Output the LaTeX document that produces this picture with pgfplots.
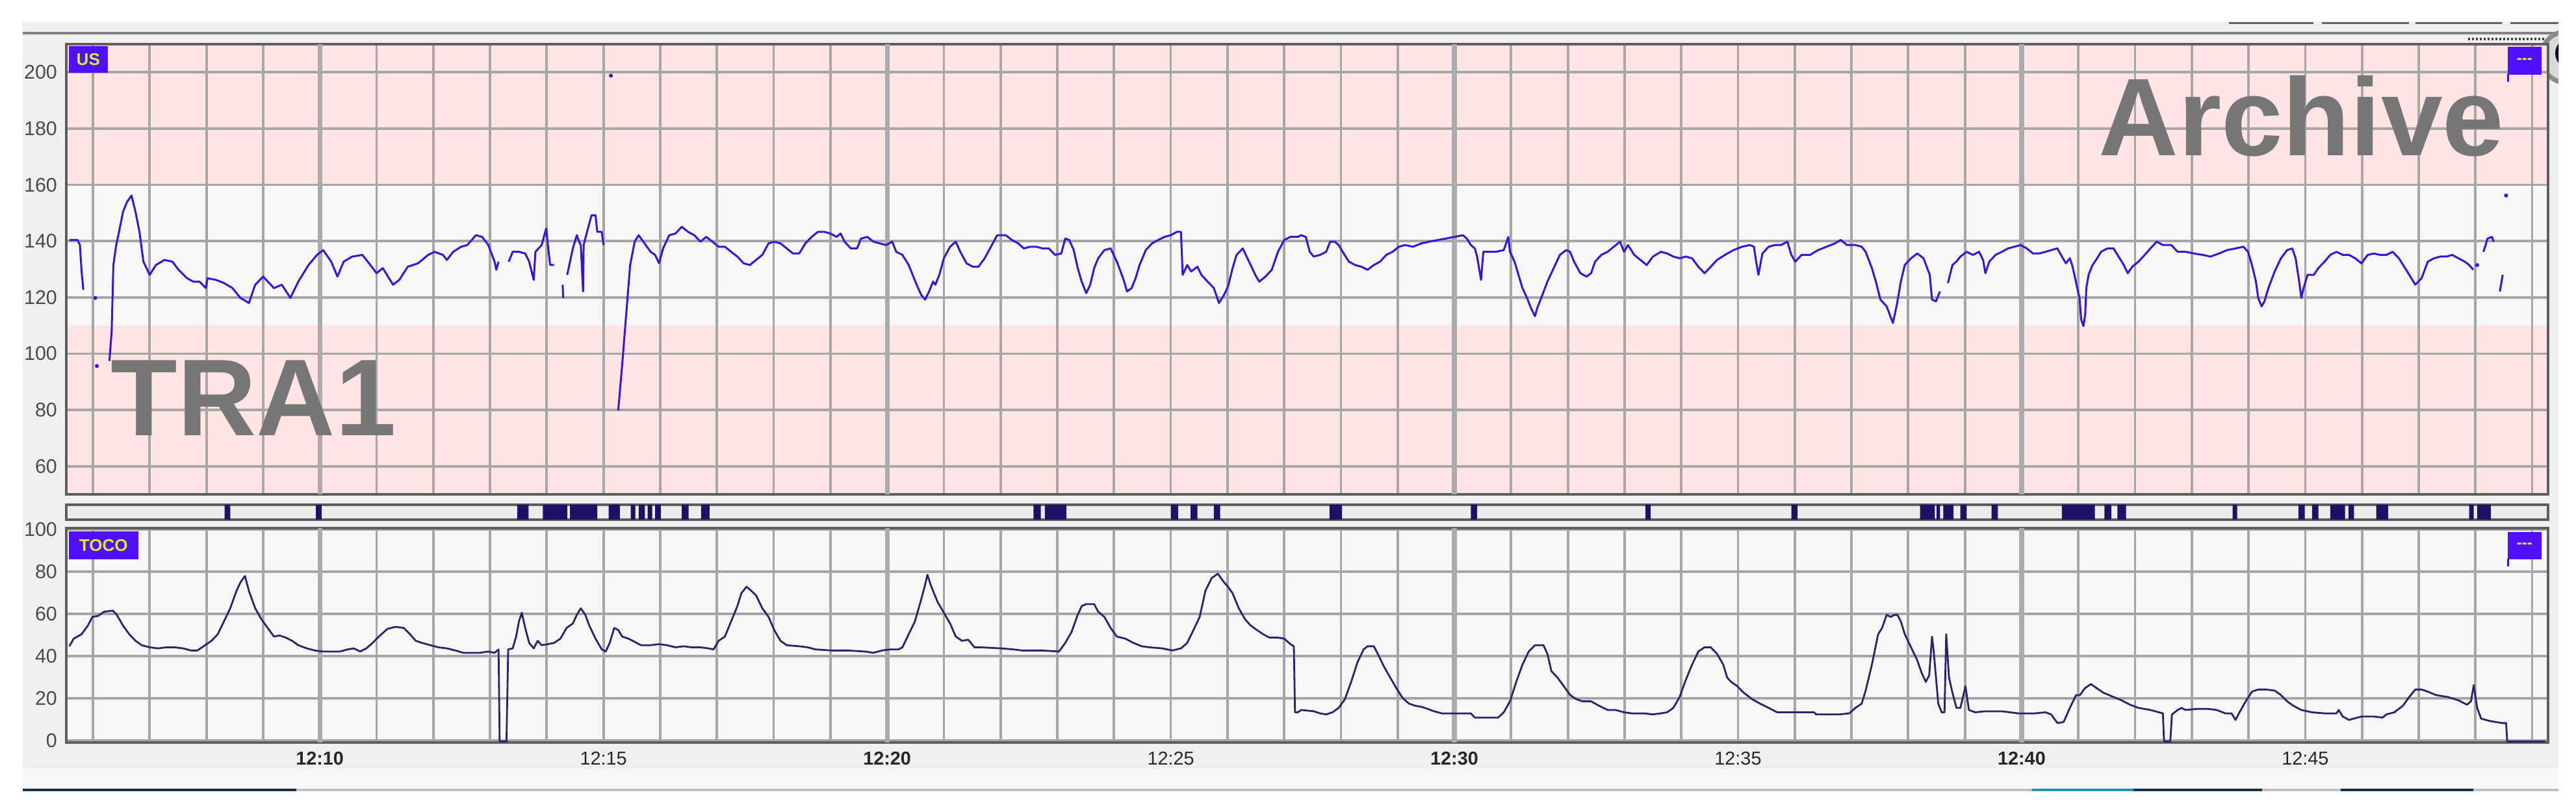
\documentclass[border=0pt]{standalone}
\usepackage{fontspec}
\setmainfont{Liberation Sans}
\usepackage{pgfplots}
\usepackage{pgfplotstable}
\pgfplotsset{compat=1.18}
\definecolor{bandpink}{HTML}{FFE4E4}
\definecolor{bandwhite}{HTML}{F7F7F7}
\definecolor{gridc}{HTML}{A6A6A6}
\definecolor{gridthick}{HTML}{ABABAB}
\definecolor{framec}{HTML}{5E5E5E}
\definecolor{panelc}{HTML}{F0F0F0}
\definecolor{stripc}{HTML}{ECECEC}
\definecolor{fhrc}{HTML}{3A14DC}
\definecolor{tococ}{HTML}{2B2270}
\definecolor{evc}{HTML}{1B1466}
\definecolor{tickc}{HTML}{4A4A4A}
\definecolor{boxc}{HTML}{5010FF}
\definecolor{boxtext}{HTML}{D8F020}
\definecolor{wmc}{HTML}{767676}

\pgfplotstableread{
t v
5.585 140.4
5.73 140.4
5.77 138.6
5.80 129.2
5.83 122.7
5.95 nan
6.29 97.4
6.33 108.0
6.36 131.5
6.41 138.6
6.46 143.3
6.53 150.4
6.60 153.9
6.68 156.2
6.75 150.4
6.82 143.3
6.89 132.7
7.00 128.0
7.11 131.5
7.26 133.3
7.40 132.7
7.51 129.8
7.66 126.8
7.77 125.6
7.88 125.6
7.99 123.3
8.02 126.8
8.17 126.2
8.31 125.1
8.46 123.3
8.60 119.8
8.75 118.0
8.86 124.5
9.00 127.4
9.19 123.3
9.33 124.5
9.48 119.8
9.62 125.6
9.80 131.5
9.95 135.1
10.06 136.8
10.20 132.7
10.31 127.4
10.42 132.7
10.57 134.5
10.75 135.1
10.89 131.5
11.00 128.6
11.11 130.4
11.29 124.5
11.40 126.2
11.55 130.9
11.73 132.1
11.91 135.1
12.02 136.2
12.17 135.1
12.24 133.3
12.35 136.2
12.49 138.0
12.60 138.6
12.75 142.1
12.86 141.5
12.97 138.6
13.08 132.7
13.11 129.8
13.15 132.7
13.24 nan
13.33 132.7
13.40 136.2
13.51 136.2
13.62 135.6
13.69 132.7
13.77 126.2
13.80 136.2
13.91 138.6
13.99 144.5
14.02 138.6
14.06 131.5
14.13 131.5
14.20 nan
14.28 124.5
14.29 119.8
14.32 nan
14.36 128.0
14.46 137.4
14.53 142.1
14.57 139.8
14.60 138.6
14.64 122.1
14.65 138.6
14.71 143.3
14.79 149.2
14.86 149.2
14.89 143.3
14.97 143.3
15.00 138.6
15.10 nan
15.26 79.8
15.33 96.2
15.40 113.9
15.47 131.5
15.55 139.8
15.62 142.1
15.83 136.2
15.91 135.1
15.98 132.1
16.05 137.4
16.16 142.1
16.27 142.7
16.38 145.1
16.49 143.3
16.60 142.1
16.71 139.8
16.81 141.5
16.92 139.8
17.03 138.0
17.14 138.0
17.25 136.2
17.36 134.5
17.47 132.1
17.58 131.5
17.69 133.3
17.80 135.1
17.91 139.2
18.01 139.8
18.12 139.2
18.23 137.4
18.34 135.6
18.45 135.6
18.56 139.2
18.67 141.5
18.78 143.3
18.89 143.3
19.00 142.7
19.11 141.5
19.18 142.7
19.25 139.8
19.36 137.4
19.47 137.4
19.54 140.9
19.65 141.5
19.76 139.8
19.87 139.2
19.98 138.6
20.09 139.8
20.16 136.2
20.27 135.1
20.38 131.5
20.45 128.0
20.52 124.5
20.60 120.9
20.67 119.2
20.74 122.1
20.81 125.6
20.85 124.5
20.92 128.0
21.00 133.9
21.11 138.0
21.21 139.8
21.29 136.2
21.40 132.1
21.51 130.9
21.61 130.9
21.72 133.9
21.83 138.0
21.94 142.1
22.09 142.1
22.20 140.4
22.31 139.2
22.41 137.4
22.52 138.0
22.63 138.0
22.74 137.4
22.85 137.4
22.96 135.1
23.07 135.6
23.14 140.9
23.21 140.4
23.29 136.8
23.36 130.4
23.43 125.6
23.51 121.5
23.58 124.5
23.65 130.4
23.72 133.9
23.83 136.8
23.94 137.4
24.05 132.7
24.16 126.8
24.23 122.1
24.31 123.3
24.38 126.8
24.45 131.5
24.56 136.8
24.67 139.2
24.78 140.4
24.89 141.5
25.00 142.1
25.11 143.3
25.18 143.3
25.21 128.0
25.29 131.5
25.36 129.2
25.47 130.9
25.54 128.0
25.65 125.6
25.76 123.3
25.85 118.0
25.94 120.9
26.01 123.9
26.09 130.4
26.16 135.1
26.27 137.4
26.38 132.7
26.49 128.0
26.56 125.6
26.67 127.4
26.78 129.8
26.89 136.2
27.00 140.4
27.11 141.5
27.24 141.5
27.30 142.1
27.38 141.5
27.45 136.2
27.52 134.5
27.63 135.1
27.74 136.2
27.81 139.8
27.89 139.8
27.96 138.6
28.03 136.2
28.14 132.7
28.25 131.5
28.36 130.9
28.47 129.8
28.58 131.5
28.69 132.7
28.80 135.1
28.91 136.2
29.02 138.0
29.13 138.6
29.27 138.0
29.42 139.2
29.56 139.8
29.71 140.4
29.85 140.9
30.00 141.5
30.15 142.1
30.22 140.9
30.29 138.6
30.36 137.4
30.40 134.5
30.47 126.2
30.51 136.2
30.62 136.2
30.73 136.2
30.87 136.8
30.95 141.5
30.98 136.2
31.06 132.7
31.13 128.0
31.20 123.3
31.28 119.8
31.35 116.2
31.42 113.3
31.46 116.2
31.53 119.8
31.64 125.6
31.75 130.4
31.86 135.1
31.97 136.8
32.04 136.2
32.11 132.7
32.22 128.6
32.33 127.4
32.41 128.6
32.48 132.7
32.59 135.1
32.70 136.2
32.81 138.0
32.92 139.8
32.99 136.2
33.06 138.6
33.17 135.1
33.28 133.3
33.39 131.5
33.50 134.5
33.64 136.2
33.75 135.6
33.86 134.5
33.97 133.9
34.08 134.5
34.19 133.9
34.30 130.9
34.41 128.6
34.52 130.9
34.63 133.3
34.77 135.1
34.92 136.8
35.07 138.0
35.21 138.6
35.28 138.0
35.32 132.7
35.36 128.0
35.43 135.6
35.54 138.0
35.65 138.6
35.76 138.6
35.87 139.8
35.94 135.1
36.01 132.7
36.12 135.1
36.27 135.1
36.41 136.8
36.56 138.0
36.71 139.2
36.81 140.4
36.92 138.6
37.07 138.6
37.18 138.0
37.25 136.2
37.36 130.4
37.43 125.6
37.51 119.2
37.62 116.8
37.73 110.9
37.80 117.4
37.87 125.6
37.94 131.5
38.05 133.9
38.16 135.6
38.27 133.9
38.38 128.0
38.42 119.2
38.49 118.6
38.56 122.1
38.63 nan
38.70 125.1
38.78 131.5
38.85 132.7
38.92 134.5
39.03 136.2
39.14 135.1
39.25 136.2
39.32 133.3
39.36 128.6
39.43 132.7
39.54 135.1
39.65 136.2
39.76 137.4
39.87 138.0
39.98 138.6
40.09 137.4
40.20 135.6
40.31 135.6
40.42 136.2
40.52 136.8
40.63 137.4
40.71 134.5
40.78 132.1
40.85 133.9
40.89 131.5
40.93 128.0
40.98 123.3
41.02 119.8
41.05 112.1
41.09 109.8
41.12 113.9
41.14 123.3
41.18 128.0
41.25 131.5
41.33 133.9
41.40 136.2
41.51 137.4
41.62 137.4
41.69 135.1
41.80 131.5
41.87 128.6
41.95 130.9
42.06 132.7
42.17 135.1
42.27 137.4
42.38 139.8
42.49 138.6
42.64 138.6
42.75 136.2
42.89 136.2
43.04 135.6
43.19 135.1
43.33 134.5
43.48 135.6
43.62 136.8
43.77 137.4
43.91 138.0
43.99 136.2
44.06 131.5
44.13 125.6
44.17 119.8
44.23 116.8
44.28 118.6
44.35 123.3
44.46 129.2
44.57 133.9
44.68 136.8
44.77 137.4
44.83 133.9
44.90 124.5
44.93 119.8
44.97 123.3
45.04 128.0
45.15 128.0
45.23 130.4
45.34 132.7
45.44 135.1
45.55 136.2
45.66 135.1
45.77 135.1
45.88 133.9
45.99 132.1
46.10 135.1
46.21 135.6
46.32 135.1
46.43 135.1
46.54 136.2
46.65 133.9
46.76 130.4
46.87 126.8
46.94 124.5
47.05 126.8
47.16 132.7
47.27 133.9
47.38 134.5
47.49 134.5
47.59 135.1
47.70 133.9
47.81 132.7
47.89 131.5
47.96 129.8
48.05 nan
48.14 136.2
48.18 138.6
48.21 140.9
48.29 141.5
48.32 139.8
48.37 nan
48.43 122.1
48.48 128.0
}\ustable

\pgfplotstableread{
t v
5.585 44.6
5.66 48.2
5.80 50.3
5.91 54.4
5.99 58.5
6.09 59.0
6.20 61.0
6.35 61.5
6.42 59.5
6.53 54.4
6.64 50.3
6.75 47.2
6.86 45.1
7.00 44.1
7.15 43.6
7.29 44.1
7.44 44.1
7.59 43.6
7.73 42.6
7.84 42.6
7.95 44.6
8.09 47.2
8.20 50.3
8.31 56.4
8.42 62.6
8.53 70.8
8.60 74.9
8.68 77.9
8.75 70.8
8.86 62.6
8.97 57.4
9.08 53.3
9.19 49.2
9.29 49.7
9.40 48.7
9.51 47.2
9.62 45.1
9.77 43.6
9.91 42.6
10.06 42.1
10.20 42.1
10.35 42.1
10.49 43.1
10.60 43.6
10.71 42.1
10.82 43.6
10.93 46.2
11.04 49.2
11.19 52.8
11.33 53.8
11.48 53.3
11.59 50.3
11.69 47.2
11.80 46.2
11.95 45.1
12.09 44.1
12.24 43.6
12.39 42.6
12.53 41.5
12.68 41.5
12.82 41.5
12.97 42.1
13.08 41.5
13.15 43.1
13.17 -0.5
13.29 -0.5
13.32 43.1
13.40 43.6
13.46 49.2
13.51 56.4
13.56 60.5
13.62 53.3
13.69 46.2
13.77 43.6
13.84 47.2
13.91 45.1
14.02 45.6
14.13 46.2
14.24 48.2
14.35 53.3
14.46 55.4
14.53 59.5
14.60 62.6
14.68 59.5
14.75 54.4
14.86 48.2
14.97 43.1
15.04 42.1
15.11 46.2
15.19 53.3
15.26 52.3
15.33 49.2
15.44 48.2
15.55 46.7
15.66 45.1
15.83 45.1
15.98 45.6
16.12 45.1
16.27 44.1
16.41 44.6
16.56 44.1
16.71 44.1
16.85 43.6
16.94 43.1
17.03 47.2
17.14 49.2
17.25 56.4
17.36 63.6
17.43 69.7
17.52 72.8
17.61 70.8
17.69 68.7
17.80 62.6
17.91 58.5
18.01 52.3
18.12 47.2
18.23 45.1
18.45 44.6
18.60 44.1
18.74 43.1
19.03 42.6
19.32 42.6
19.61 42.1
19.76 41.5
19.91 42.6
20.05 43.1
20.20 43.1
20.27 44.1
20.38 50.3
20.49 56.4
20.60 66.7
20.67 73.8
20.71 78.5
20.78 72.8
20.89 65.6
21.00 60.5
21.11 55.4
21.21 49.2
21.32 47.2
21.43 47.7
21.54 44.1
21.65 44.1
22.01 43.6
22.23 43.1
22.38 42.6
22.74 42.6
23.03 42.1
23.14 46.2
23.25 51.3
23.36 59.5
23.43 63.6
23.51 64.6
23.65 64.6
23.72 61.0
23.83 58.5
23.94 53.3
24.05 49.2
24.20 48.2
24.34 46.2
24.49 44.6
24.63 44.1
24.85 43.6
25.03 42.6
25.18 43.6
25.29 46.2
25.40 52.3
25.51 58.5
25.61 70.8
25.72 76.9
25.83 79.0
25.94 74.9
26.01 72.8
26.09 69.7
26.20 62.6
26.31 57.4
26.41 54.4
26.52 52.3
26.63 50.3
26.74 48.7
26.89 48.7
27.00 48.2
27.11 45.6
27.17 44.6
27.19 13.3
27.24 13.3
27.30 14.4
27.52 13.8
27.63 12.8
27.74 12.3
27.85 13.3
27.96 15.4
28.07 19.5
28.18 27.7
28.29 36.9
28.40 43.1
28.47 44.6
28.58 44.6
28.65 41.0
28.76 34.9
28.87 29.7
28.98 24.6
29.09 20.0
29.20 17.4
29.31 16.4
29.42 15.9
29.53 14.9
29.64 13.8
29.78 12.8
30.00 12.8
30.29 12.8
30.36 10.8
30.77 10.8
30.87 13.3
30.98 18.5
31.09 27.7
31.20 35.9
31.31 42.1
31.42 45.1
31.57 45.1
31.64 41.0
31.71 32.8
31.82 29.7
31.93 25.6
32.04 21.5
32.15 19.5
32.26 18.5
32.41 18.5
32.55 16.4
32.70 14.4
32.84 14.4
32.99 13.3
33.13 12.8
33.35 12.8
33.50 12.3
33.64 12.8
33.75 13.3
33.86 15.4
33.97 20.5
34.08 28.7
34.19 35.9
34.30 42.1
34.41 44.1
34.52 44.1
34.63 41.0
34.74 35.9
34.81 29.7
34.88 27.7
34.99 25.6
35.10 22.6
35.25 19.5
35.39 17.4
35.54 15.4
35.69 13.3
36.34 13.3
36.38 12.3
36.78 12.3
36.96 12.8
37.07 15.4
37.18 17.4
37.25 23.6
37.36 35.9
37.47 50.3
37.54 53.3
37.62 59.5
37.69 58.5
37.76 59.5
37.81 59.5
37.87 56.4
37.94 50.3
38.05 44.1
38.16 37.9
38.24 31.8
38.31 27.7
38.37 30.8
38.42 49.2
38.45 42.1
38.49 29.7
38.53 17.4
38.59 13.3
38.64 13.3
38.67 50.3
38.72 29.7
38.78 22.6
38.85 15.4
38.92 15.4
39.01 25.6
39.07 14.4
39.18 13.3
39.36 13.8
39.65 13.8
39.94 12.8
40.23 12.8
40.42 13.3
40.52 12.3
40.63 8.2
40.74 8.7
40.85 15.4
40.96 21.5
41.03 21.5
41.11 24.6
41.22 26.7
41.33 24.6
41.44 22.6
41.58 21.0
41.76 19.0
41.91 16.9
42.06 15.4
42.27 14.4
42.42 13.3
42.49 12.8
42.51 -0.5
42.62 -0.5
42.65 12.3
42.75 14.4
42.82 15.4
42.89 14.4
43.08 14.9
43.29 14.9
43.44 14.4
43.59 12.8
43.70 12.8
43.77 9.7
43.84 13.3
43.95 18.5
44.06 23.1
44.17 24.1
44.31 24.1
44.46 23.6
44.57 21.5
44.68 18.5
44.79 16.4
44.93 14.4
45.12 13.3
45.34 12.8
45.55 12.8
45.59 14.4
45.66 11.3
45.77 9.7
45.99 11.3
46.21 11.3
46.36 10.8
46.43 12.3
46.57 13.3
46.72 16.4
46.83 20.5
46.94 24.1
47.05 24.1
47.16 23.1
47.30 21.5
47.52 20.5
47.70 19.0
47.85 16.9
47.92 18.5
47.97 26.2
48.03 15.4
48.10 10.3
48.25 9.2
48.47 8.2
48.54 8.2
48.56 -0.5
49.23 -0.5
}\tocotable

\pgfplotsset{
 ctg/.style={
  scale only axis, width=954.75pt,
  xmin=5.53, xmax=49.28,
  axis line style={draw=framec, line width=1.2pt},
  major tick length=0pt, minor tick length=0pt,
  xtick={10,15,...,45},
  minor xtick={6,7,...,49},
  grid=both,
  major grid style={draw=gridc, line width=0.95pt},
  minor grid style={draw=gridc, line width=0.95pt},
  extra x ticks={10,20,30,40},
  extra x tick labels={},
  extra x tick style={grid=major, major grid style={draw=gridthick, line width=1.8pt}},
  /pgf/number format/assume math mode=true,
  yticklabel style={font=\fontsize{7.6}{8}\selectfont, text=tickc},
  xticklabel style={font=\fontsize{7.2}{8}\selectfont, text=black!85},
  unbounded coords=jump,
 }
}

\begin{document}
\begin{tikzpicture}
\path[use as bounding box] (0,0) rectangle (991pt,312.5pt);
\fill[white] (0,0) rectangle (991pt,312.5pt);
\fill[panelc] (8.75pt,9.5pt) rectangle (984.25pt,304.25pt);
\fill[black!3] (8.75pt,9.5pt) rectangle (984.25pt,16.75pt);
\draw[line width=1.1pt, black!50] (8.75pt,299.75pt) -- (984.25pt,299.75pt);
\foreach \a/\b in {857.5/890,893.25/926.75,929.25/962.5,965.75/984.25}
  \draw[line width=0.9pt, black!60] (\a pt,303.6pt) -- (\b pt,303.6pt);
\draw[line width=1pt, black!75, dash pattern=on 0.7pt off 0.8pt] (949.5pt,297.6pt) -- (979.25pt,297.6pt);
% knob at top right (clipped to the panel)
\begin{scope}
  \clip (960pt,9.5pt) rectangle (984.25pt,304.25pt);
  \fill[black!45] (987.5pt,290.5pt) circle (10.8pt);
  \fill[black!15] (987.5pt,290.5pt) circle (9pt);
  \fill[black!85!blue] (989pt,292pt) circle (6pt);
\end{scope}
% bottom scroll bar
\draw[line width=0.9pt, black!25] (8.75pt,8.5pt) -- (984.25pt,8.5pt);
\draw[line width=1.1pt, color={rgb,255:red,22;green,52;blue,82}] (8.75pt,8.5pt) -- (114pt,8.5pt);
\draw[line width=1.1pt, color={rgb,255:red,30;green,150;blue,175}] (781.75pt,8.5pt) -- (820.75pt,8.5pt);
\draw[line width=1.1pt, color={rgb,255:red,22;green,52;blue,82}] (820.75pt,8.5pt) -- (870.25pt,8.5pt);
\draw[line width=1.1pt, color={rgb,255:red,22;green,52;blue,82}] (900.5pt,8.5pt) -- (951.5pt,8.5pt);
% panel backgrounds (normal range band 110-160 bpm white, rest pink)
\fill[bandpink] (25.5pt,122.25pt) rectangle (980.25pt,187.22pt);
\fill[bandwhite] (25.5pt,187.22pt) rectangle (980.25pt,241.36pt);
\fill[bandpink] (25.5pt,241.36pt) rectangle (980.25pt,295.5pt);
\fill[stripc] (25.5pt,112.5pt) rectangle (980.25pt,118.25pt);
\fill[bandwhite] (25.5pt,26.75pt) rectangle (980.25pt,109.25pt);

% ---------- US (FHR) panel ----------
\begin{axis}[ctg, at={(25.5pt,122.25pt)}, anchor=south west, height=173.25pt,
  ymin=50, ymax=210, ytick={60,80,...,200}, xticklabels={}]
  \addplot[color=fhrc, line width=0.75pt, line join=round] table[x=t, y=v] {\ustable};
  \addplot[only marks, mark=*, mark size=0.55pt, color=fhrc]
    coordinates {(6.04,119.8) (6.07,95.6) (15.13,198.8) (48.03,131.5) (48.54,156.2)};
\end{axis}

% ---------- event strip ----------
\begin{axis}[scale only axis, width=954.75pt, height=5.75pt,
  at={(25.5pt,112.5pt)}, anchor=south west,
  xmin=5.53, xmax=49.28, ymin=0, ymax=1,
  xtick=\empty, ytick=\empty,
  axis line style={draw=framec, line width=1.2pt}]
  \addplot[const plot, fill=evc, draw=none] coordinates {
   (5.53,0) (8.32,1) (8.42,0) (9.93,1) (10.03,0) (13.48,1) (13.68,0)
   (13.93,1) (14.36,0) (14.41,1) (14.89,0) (15.09,1) (15.29,0)
   (15.48,1) (15.56,0) (15.62,1) (15.73,0) (15.78,1) (15.86,0)
   (15.91,1) (16.01,0) (16.38,1) (16.50,0) (16.72,1) (16.87,0)
   (22.58,1) (22.71,0) (22.78,1) (23.16,0) (25.00,1) (25.13,0)
   (25.35,1) (25.47,0) (25.76,1) (25.87,0) (27.80,1) (28.02,0)
   (30.29,1) (30.40,0) (33.37,1) (33.46,0) (35.94,1) (36.05,0)
   (38.21,1) (38.47,0) (38.50,1) (38.56,0) (38.62,1) (38.80,0)
   (38.92,1) (39.03,0) (39.47,1) (39.58,0) (40.71,1) (41.29,0)
   (41.46,1) (41.58,0) (41.69,1) (41.84,0) (43.72,1) (43.80,0)
   (44.88,1) (44.99,0) (45.12,1) (45.23,0) (45.44,1) (45.70,0)
   (45.76,1) (45.86,0) (46.25,1) (46.46,0) (47.89,1) (47.97,0)
   (48.03,1) (48.27,0) (49.28,0)} \closedcycle;
\end{axis}

% ---------- TOCO panel ----------
\begin{axis}[ctg, at={(25.5pt,26.75pt)}, anchor=south west, height=82.5pt,
  ymin=-1, ymax=100.6, ytick={0,20,...,100},
  xticklabels={\textbf{12:10},12:15,\textbf{12:20},12:25,\textbf{12:30},12:35,\textbf{12:40},12:45}]
  \addplot[color=tococ, line width=0.7pt, line join=round] table[x=t, y=v] {\tocotable};
\end{axis}

% watermarks and channel tags
\node[anchor=base west, inner sep=0pt, text=wmc, font=\fontsize{42}{42}\bfseries\selectfont] at (42.5pt,144.75pt) {TRA1};
\node[anchor=base east, inner sep=0pt, text=wmc, font=\fontsize{42.5}{42}\bfseries\selectfont] at (963.5pt,252.5pt) {Archive};
\node[anchor=north west, fill=boxc, inner sep=0pt, minimum width=15pt, minimum height=10.25pt, text=boxtext, font=\fontsize{6.5}{7}\bfseries\selectfont] at (26.25pt,295pt) {US};
\node[anchor=north west, fill=boxc, inner sep=0pt, minimum width=26.75pt, minimum height=10.75pt, text=boxtext, font=\fontsize{6.5}{7}\bfseries\selectfont] at (26.25pt,108.25pt) {TOCO};
\node[anchor=north west, fill=boxc, inner sep=0pt, minimum width=13pt, minimum height=10.75pt, text=boxtext, font=\fontsize{6}{7}\bfseries\selectfont] at (964.5pt,294.75pt) {{-}{-}{-}};
\node[anchor=north west, fill=boxc, inner sep=0pt, minimum width=13pt, minimum height=10.5pt, text=boxtext, font=\fontsize{6}{7}\bfseries\selectfont] at (964.5pt,108pt) {{-}{-}{-}};
\draw[fhrc, line width=0.8pt] (964.9pt,284pt) -- (964.9pt,281pt);
\draw[fhrc, line width=0.8pt] (964.9pt,97.5pt) -- (964.9pt,94.5pt);
\end{tikzpicture}
\end{document}
